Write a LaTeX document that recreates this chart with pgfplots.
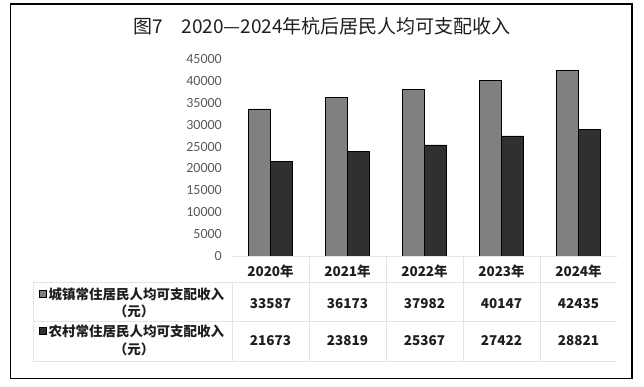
\documentclass[border=0pt]{standalone}
\usepackage{pgfplots}
\pgfplotsset{compat=1.18}
\usepackage{fontspec}
\setmainfont{Carlito}
\newfontfamily\cjk{Noto Sans CJK SC}
\definecolor{barA}{HTML}{808080}
\definecolor{barB}{HTML}{303030}
\definecolor{tickc}{HTML}{595959}
\definecolor{gridc}{HTML}{E4E4E4}
\definecolor{txt}{HTML}{1E1E1E}
\begin{document}
\begin{tikzpicture}
\begin{scope}[x=1pt,y=1pt]
\path[use as bounding box] (0,0) rectangle (644,387);
\draw[line width=1.4pt] (10.7,8.5) rectangle (632,383);
\node[font=\cjk\fontsize{19}{19}\selectfont, text=txt] at (322,361) {图7　2020—2024年杭后居民人均可支配收入};
\end{scope}
\begin{axis}[
  at={(232pt,131pt)}, anchor=south west, scale only axis,
  width=385pt, height=197pt,
  xmin=-0.5, xmax=4.5, ymin=0, ymax=45000,
  enlargelimits=false,
  ybar=0pt, bar width=22pt,
  axis line style={draw=none},
  xtick=\empty,
  ytick={0,5000,...,45000},
  scaled y ticks=false,
  major tick length=0pt,
  yticklabel style={font=\fontsize{14}{14}\selectfont, text=tickc, inner sep=0pt, xshift=-10pt},
  /pgf/number format/1000 sep={},
  /pgf/number format/assume math mode=true,
  clip=false,
]
\addplot[fill=barA, draw=black, line width=0.8pt] coordinates {(0,33587) (1,36173) (2,37982) (3,40147) (4,42435)};
\addplot[fill=barB, draw=black, line width=0.8pt] coordinates {(0,21673) (1,23819) (2,25367) (3,27422) (4,28821)};
\end{axis}
\begin{scope}[x=1pt,y=1pt]
% data table grid
\begin{scope}[draw=gridc, line width=0.8pt]
\draw (232,131) -- (617,131);
\draw (33,105) -- (617,105);
\draw (33,66) -- (617,66);
\draw (33,26) -- (617,26);
\draw (33,105) -- (33,26);
\draw (232,105) -- (232,26);
\foreach \x in {309,386,463,540} \draw (\x,131) -- (\x,26);
\end{scope}
% header and values
\begin{scope}[font=\cjk\bfseries\fontsize{13.5}{13.5}\selectfont, text=txt]
\foreach \lab [count=\i from 0] in {2020年,2021年,2022年,2023年,2024年}
  \node at (270.5+77*\i,116) {\lab};
\foreach \v [count=\i from 0] in {33587,36173,37982,40147,42435}
  \node at (270.5+77*\i,83.7) {\v};
\foreach \v [count=\i from 0] in {21673,23819,25367,27422,28821}
  \node at (270.5+77*\i,46.3) {\v};
\filldraw[fill=barA, draw=black, line width=0.7pt] (39.5,89.5) rectangle (46.5,96.5);
\node[anchor=west, inner sep=0pt] at (48.5,93) {城镇常住居民人均可支配收入};
\node at (134,76) {（元）};
\filldraw[fill=barB, draw=black, line width=0.7pt] (39.5,52.5) rectangle (46.5,59.5);
\node[anchor=west, inner sep=0pt] at (48.5,56) {农村常住居民人均可支配收入};
\node at (134,38) {（元）};
\end{scope}
\end{scope}
\end{tikzpicture}
\end{document}
